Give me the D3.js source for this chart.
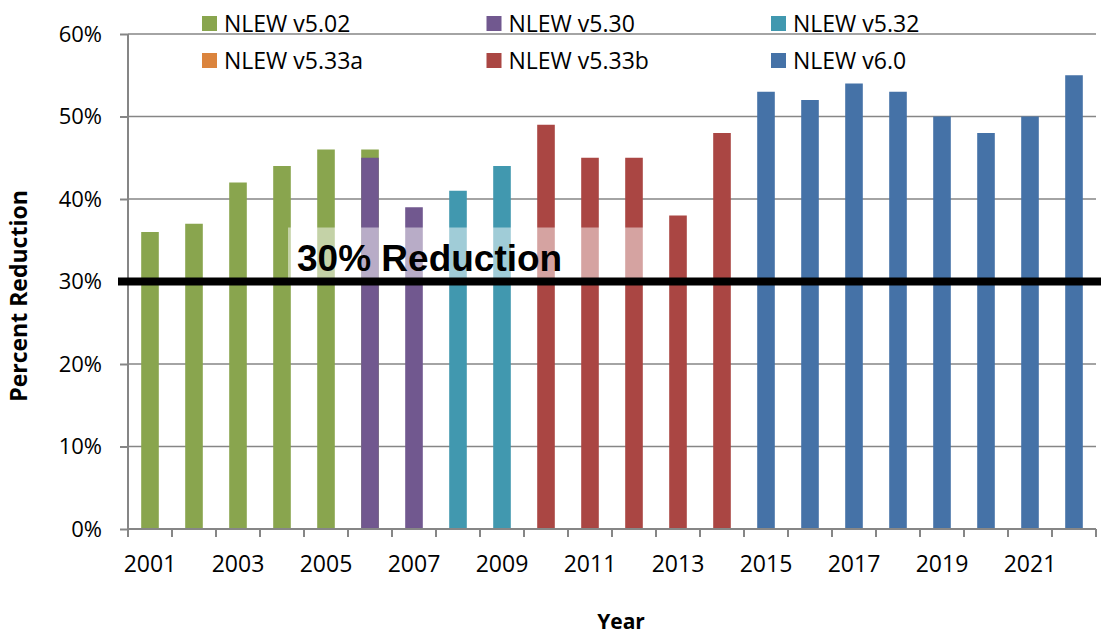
<!DOCTYPE html>
<html>
<head>
<meta charset="utf-8">
<script src="https://cdn.jsdelivr.net/npm/d3@7"></script>
<style>
  body { margin: 0; background: #fff; }
  text { font-family: "Open Sans", "Noto Sans", sans-serif; }
</style>
</head>
<body>
<div id="chart-container"></div>
<script>
// chart data
var years = ['2001','2002','2003','2004','2005','2006','2007','2008','2009','2010','2011',
             '2012','2013','2014','2015','2016','2017','2018','2019','2020','2021','2022'];
var seriesNames = ['NLEW v5.02', 'NLEW v5.30', 'NLEW v5.32', 'NLEW v5.33a', 'NLEW v5.33b', 'NLEW v6.0'];
var v502  = [36, 37, 42, 44, 46, 46, null, null, null, null, null, null, null, null, null, null, null, null, null, null, null, null];
var v530  = [null, null, null, null, null, 45, 39, null, null, null, null, null, null, null, null, null, null, null, null, null, null, null];
var v532  = [null, null, null, null, null, null, null, 41, 44, null, null, null, null, null, null, null, null, null, null, null, null, null];
var v533a = [null, null, null, null, null, null, null, null, null, null, null, null, null, null, null, null, null, null, null, null, null, null];
var v533b = [null, null, null, null, null, null, null, null, null, 49, 45, 45, 38, 48, null, null, null, null, null, null, null, null];
var v60   = [null, null, null, null, null, null, null, null, null, null, null, null, null, null, 53, 52, 54, 53, 50, 48, 50, 55];
var yTicks = [0, 10, 20, 30, 40, 50, 60];
var target = 30;

var seriesValues = [v502, v530, v532, v533a, v533b, v60];
var colors = ['#89A54E', '#71588F', '#4198AF', '#DB843D', '#AA4643', '#4572A7'];

var margin = { top: 34, left: 128 };
var width = 968;
var height = 495;

var svg = d3.select("#chart-container")
  .append("svg")
  .attr("width", 1101)
  .attr("height", 635);

var g = svg.append("g")
  .attr("transform", "translate(" + margin.left + "," + margin.top + ")");

var xScale = d3.scaleBand()
  .domain(years)
  .range([0, width])
  .paddingInner(0.6)
  .paddingOuter(0.3);

var yScale = d3.scaleLinear()
  .domain([0, 60])
  .range([height, 0]);

// gridlines
g.selectAll(".grid")
  .data(yTicks.filter(d => d > 0))
  .enter()
  .append("line")
  .attr("x1", 0)
  .attr("x2", width)
  .attr("y1", d => yScale(d))
  .attr("y2", d => yScale(d))
  .attr("stroke", "#868686")
  .attr("stroke-width", 1.5);

// bars, each series from zero, later ones over earlier (100% overlap)
seriesValues.forEach(function(vals, si) {
  var rows = years.map((y, i) => ({ year: y, value: vals[i] })).filter(d => d.value != null);
  g.selectAll(".bar-s" + si)
    .data(rows)
    .enter()
    .append("rect")
    .attr("class", "bar-s" + si)
    .attr("x", d => xScale(d.year))
    .attr("y", d => yScale(d.value))
    .attr("width", xScale.bandwidth())
    .attr("height", d => height - yScale(d.value))
    .attr("fill", colors[si]);
});

// y axis
var yAxis = d3.axisLeft(yScale)
  .tickValues(yTicks)
  .tickFormat(d => d + "%")
  .tickSize(8)
  .tickPadding(18);
var yG = g.append("g").call(yAxis);
yG.select(".domain").attr("stroke", "#868686").attr("stroke-width", 2).attr("d", "M0," + height + "V0");
yG.selectAll(".tick line").attr("stroke", "#868686").attr("stroke-width", 2);
yG.selectAll(".tick text").style("font-size", "22px").attr("fill", "#000");

// x axis: labels on odd years, tick marks on category boundaries
var xAxis = d3.axisBottom(xScale)
  .tickValues(years.filter((d, i) => i % 2 === 0))
  .tickSize(0)
  .tickPadding(27);
var xG = g.append("g").attr("transform", "translate(0," + height + ")").call(xAxis);
xG.select(".domain").remove();
xG.selectAll(".tick text").style("font-size", "23px").attr("fill", "#000");

var step = xScale.step();
var bounds = d3.range(years.length + 1).map(i => i * step);
g.append("line")
  .attr("x1", 0).attr("x2", width)
  .attr("y1", height).attr("y2", height)
  .attr("stroke", "#868686").attr("stroke-width", 2);
g.selectAll(".xtick")
  .data(bounds)
  .enter()
  .append("line")
  .attr("x1", d => d).attr("x2", d => d)
  .attr("y1", height).attr("y2", height + 8)
  .attr("stroke", "#868686").attr("stroke-width", 2);

// 30% label box and line
g.append("rect")
  .attr("x", 160).attr("y", yScale(target) - 54)
  .attr("width", 355).attr("height", 52)
  .attr("fill", "#fff").attr("fill-opacity", 0.5);
g.append("text")
  .attr("x", 169).attr("y", yScale(target) - 11)
  .style("font-family", "'Liberation Sans', Arial, sans-serif")
  .style("font-weight", "bold")
  .style("font-size", "37px")
  .attr("fill", "#000")
  .text(target + "% Reduction");
g.append("line")
  .attr("x1", -10).attr("x2", width + 5)
  .attr("y1", yScale(target)).attr("y2", yScale(target))
  .attr("stroke", "#000").attr("stroke-width", 8);

// legend
var legend = svg.selectAll(".legend")
  .data(seriesNames)
  .enter()
  .append("g")
  .attr("transform", (d, i) => "translate(" + (202 + (i % 3) * 284.5) + "," + (16 + Math.floor(i / 3) * 37) + ")");
legend.append("rect")
  .attr("width", 15).attr("height", 15)
  .attr("fill", (d, i) => colors[i]);
legend.append("text")
  .attr("x", 22).attr("y", 15.5)
  .style("font-size", "23px")
  .attr("fill", "#000")
  .text(d => d);

// axis titles
svg.append("text")
  .attr("transform", "translate(27,296) rotate(-90)")
  .attr("text-anchor", "middle")
  .style("font-weight", "bold")
  .style("font-size", "23px")
  .text("Percent Reduction");
svg.append("text")
  .attr("x", 621).attr("y", 629)
  .attr("text-anchor", "middle")
  .style("font-weight", "bold")
  .style("font-size", "21px")
  .text("Year");
</script>
</body>
</html>
